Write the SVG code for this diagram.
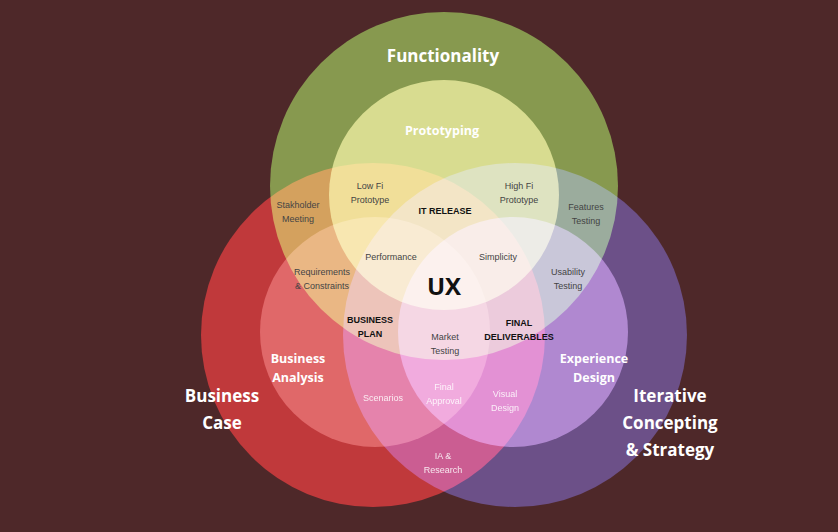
<svg xmlns="http://www.w3.org/2000/svg" width="838" height="532" viewBox="0 0 838 532">
<style>
.c{mix-blend-mode:screen}
.big{font-family:"Open Sans",sans-serif;font-weight:bold;font-size:17px;fill:#fff;text-anchor:middle}
.mid{font-family:"Open Sans",sans-serif;font-weight:bold;font-size:12.5px;fill:#fff;text-anchor:middle}
.sm{font-family:"Liberation Sans",sans-serif;font-size:9px;fill:#444;text-anchor:middle}
.smw{font-family:"Liberation Sans",sans-serif;font-size:9px;fill:#fff;text-anchor:middle;opacity:.85}
.bk{font-family:"Liberation Sans",sans-serif;font-size:9px;font-weight:bold;fill:#111;text-anchor:middle}
</style>
<g id="venn" style="isolation:isolate">
<rect width="838" height="532" fill="#4e2829"/>
<g id="outer">
<circle class="c" cx="444" cy="186" r="174" fill="#52862d"/>
<circle class="c" cx="373" cy="335" r="172" fill="#a41416"/>
<circle class="c" cx="515" cy="335" r="172" fill="#2b2f71"/>
</g>
<g id="inner">
<circle class="c" cx="444" cy="195" r="115" fill="#aca85e"/>
<circle class="c" cx="375" cy="332" r="115" fill="#813c3c"/>
<circle class="c" cx="513" cy="332" r="115" fill="#76529b"/>
</g>
</g>
<g id="labels">
<text class="big" x="443" y="62">Functionality</text>
<text class="big" x="222" y="402">Business</text>
<text class="big" x="222" y="429">Case</text>
<text class="big" x="670" y="402">Iterative</text>
<text class="big" x="670" y="429">Concepting</text>
<text class="big" x="670" y="456">&amp; Strategy</text>
<text class="mid" x="442" y="135">Prototyping</text>
<text class="mid" x="298" y="363">Business</text>
<text class="mid" x="298" y="382">Analysis</text>
<text class="mid" x="594" y="363">Experience</text>
<text class="mid" x="594" y="382">Design</text>
<text x="444" y="295" font-family="Open Sans,sans-serif" font-weight="bold" font-size="24" fill="#111" text-anchor="middle">UX</text>
<text class="sm" x="298" y="208">Stakholder</text><text class="sm" x="298" y="222">Meeting</text>
<text class="sm" x="370" y="189">Low Fi</text><text class="sm" x="370" y="203">Prototype</text>
<text class="sm" x="519" y="189">High Fi</text><text class="sm" x="519" y="203">Prototype</text>
<text class="sm" x="586" y="210">Features</text><text class="sm" x="586" y="224">Testing</text>
<text class="bk" x="445" y="214">IT RELEASE</text>
<text class="sm" x="391" y="260">Performance</text>
<text class="sm" x="498" y="260">Simplicity</text>
<text class="sm" x="322" y="275">Requirements</text><text class="sm" x="322" y="289">&amp; Constraints</text>
<text class="sm" x="568" y="275">Usability</text><text class="sm" x="568" y="289">Testing</text>
<text class="bk" x="370" y="323">BUSINESS</text><text class="bk" x="370" y="337">PLAN</text>
<text class="bk" x="519" y="326">FINAL</text><text class="bk" x="519" y="340">DELIVERABLES</text>
<text class="sm" x="445" y="340">Market</text><text class="sm" x="445" y="354">Testing</text>
<text class="smw" x="383" y="401">Scenarios</text>
<text class="smw" x="444" y="390">Final</text><text class="smw" x="444" y="404">Approval</text>
<text class="smw" x="505" y="397">Visual</text><text class="smw" x="505" y="411">Design</text>
<text class="smw" x="443" y="459">IA &amp;</text><text class="smw" x="443" y="473">Research</text>
</g>
</svg>
